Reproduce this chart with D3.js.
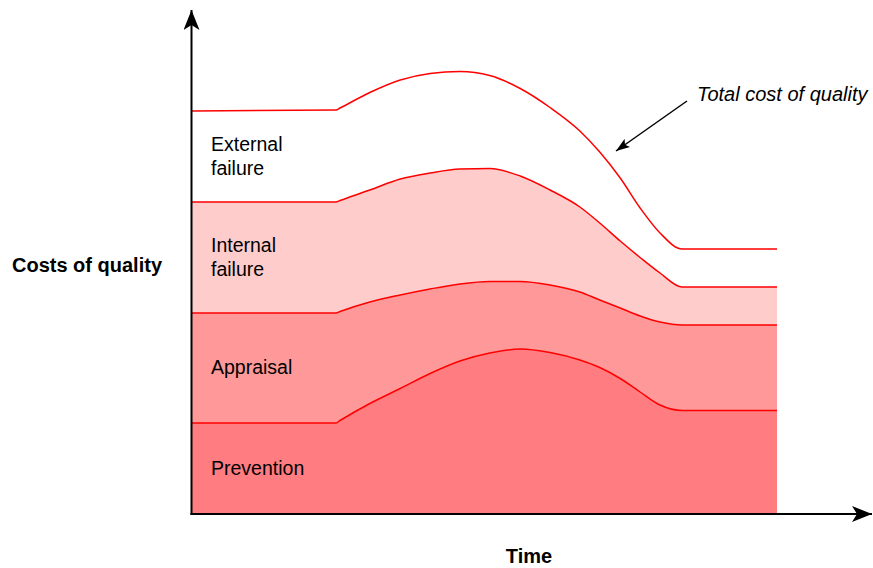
<!DOCTYPE html>
<html><head><meta charset="utf-8">
<script src="https://cdn.jsdelivr.net/npm/d3@7"></script>
<style>body{margin:0;background:#fff}svg{display:block}</style>
</head><body>
<script>
// Time points (0..100 scale)
const timePoints = [0, 24.6, 25.3, 30.4, 35.6, 40.7, 45.8, 50.9, 56.1, 61.2, 66.3, 69.7, 73.2, 76.6, 80.0, 83.8, 100];
// Layer thicknesses (cost units)
const prevention      = [18.2, 18.2, 18.7, 22.1, 25.1, 28.1, 30.6, 32.2, 33.0, 32.3, 30.8, 29.3, 27.1, 24.4, 21.8, 20.7, 20.7];
const appraisal       = [22.0, 22.0, 21.8, 20.3, 18.7, 16.9, 15.4, 14.3, 13.5, 13.5, 13.6, 13.5, 14.1, 15.2, 16.6, 17.1, 17.1];
const internalFailure = [22.2, 22.2, 22.2, 22.4, 23.2, 23.2, 23.0, 22.6, 21.1, 19.0, 17.0, 15.4, 13.4, 11.7, 9.8, 7.6, 7.6];
const externalFailure = [18.2, 18.4, 18.5, 19.5, 19.8, 19.9, 19.5, 18.6, 17.5, 16.5, 15.2, 14.2, 12.6, 9.9, 8.0, 7.6, 7.6];
const seriesKeys = ["Prevention", "Appraisal", "Internal failure", "External failure"];
const seriesLabels = [["Prevention"], ["Appraisal"], ["Internal", "failure"], ["External", "failure"]];
const seriesColors = ["#FF7C80", "#FF9999", "#FFCCCC", "#FFFFFF"];
const yAxisTitle = "Costs of quality";
const xAxisTitle = "Time";
const annotation = "Total cost of quality";

const W = 873, H = 568;
const FONT = "Liberation Sans, Arial, sans-serif";
const svg = d3.select("body").append("svg").attr("width", W).attr("height", H);

const table = timePoints.map((t, i) => ({
  t,
  "Prevention": prevention[i],
  "Appraisal": appraisal[i],
  "Internal failure": internalFailure[i],
  "External failure": externalFailure[i]
}));
const stacked = d3.stack().keys(seriesKeys)(table);

const x = d3.scaleLinear().domain([0, 100]).range([192, 777]);
const y = d3.scaleLinear().domain([0, 100]).range([514, 14]);

const curve = d3.curveMonotoneX;
const area = d3.area().x(d => x(d.data.t)).y0(d => y(d[0])).y1(d => y(d[1])).curve(curve);
const line = d3.line().x(d => x(d.data.t)).y(d => y(d[1])).curve(curve);

svg.selectAll("path.area").data(stacked).join("path")
  .attr("class", "area")
  .attr("d", area)
  .attr("fill", (d, i) => seriesColors[i]);

svg.selectAll("path.top").data(stacked).join("path")
  .attr("class", "top")
  .attr("d", line)
  .attr("fill", "none")
  .attr("stroke", "#FF0000")
  .attr("stroke-width", 1.5)
  .attr("stroke-linejoin", "round");

// Labels
const labelY = [475, 374, 252, 151];
seriesLabels.forEach((lines, i) => {
  const t = svg.append("text").attr("x", 211).attr("y", labelY[i])
    .attr("font-family", FONT).attr("font-size", 19.5).attr("fill", "#000");
  lines.forEach((l, j) => t.append("tspan").attr("x", 211).attr("dy", j === 0 ? 0 : 23.5).text(l));
});

// Axes with arrows
const defs = svg.append("defs");
defs.append("marker").attr("id", "ah").attr("viewBox", "0 0 20 16")
  .attr("refX", 20).attr("refY", 8).attr("markerWidth", 20).attr("markerHeight", 16)
  .attr("markerUnits", "userSpaceOnUse").attr("orient", "auto")
  .append("path").attr("d", "M0,0 L20,8 L0,16 L5,8 Z").attr("fill", "#000");

svg.append("line").attr("x1", 191.5).attr("y1", 515).attr("x2", 191.5).attr("y2", 10)
  .attr("stroke", "#000").attr("stroke-width", 2).attr("marker-end", "url(#ah)");
svg.append("line").attr("x1", 190.5).attr("y1", 514).attr("x2", 872).attr("y2", 514)
  .attr("stroke", "#000").attr("stroke-width", 2).attr("marker-end", "url(#ah)");

svg.append("text").attr("x", 12).attr("y", 272).attr("font-family", FONT)
  .attr("font-size", 20).attr("font-weight", "bold").text(yAxisTitle);
svg.append("text").attr("x", 529).attr("y", 563).attr("text-anchor", "middle")
  .attr("font-family", FONT)
  .attr("font-size", 20).attr("font-weight", "bold").text(xAxisTitle);

// Annotation
svg.append("text").attr("x", 697).attr("y", 101).attr("font-family", FONT)
  .attr("font-size", 20).attr("font-style", "italic").text(annotation);
defs.append("marker").attr("id", "ah2").attr("viewBox", "0 0 14 10")
  .attr("refX", 14).attr("refY", 5).attr("markerWidth", 14).attr("markerHeight", 10)
  .attr("markerUnits", "userSpaceOnUse").attr("orient", "auto")
  .append("path").attr("d", "M0,0 L14,5 L0,10 L3,5 Z").attr("fill", "#000");
svg.append("line").attr("x1", 687).attr("y1", 101).attr("x2", 616).attr("y2", 151)
  .attr("stroke", "#000").attr("stroke-width", 1.5).attr("marker-end", "url(#ah2)");
</script>
</body></html>
